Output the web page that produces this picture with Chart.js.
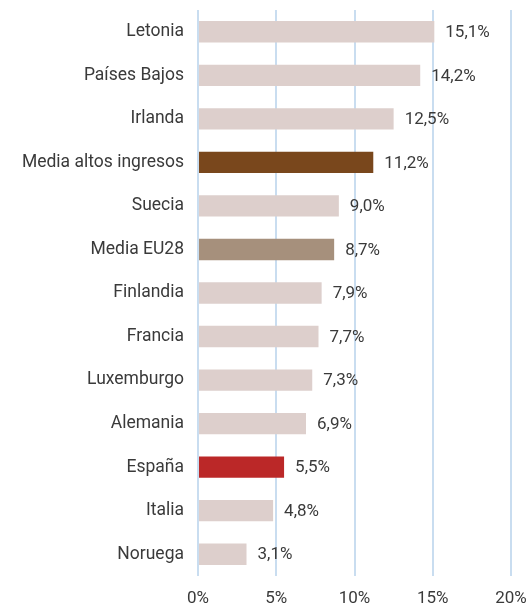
<!DOCTYPE html>
<html>
<head>
<meta charset="utf-8">
<script src="https://cdn.jsdelivr.net/npm/chart.js@4"></script>
<style>
  html, body { margin: 0; padding: 0; background: #fff; }
  .chart-container { position: relative; width: 532px; height: 608px; }
</style>
</head>
<body>
<div class="chart-container">
  <canvas id="chart"></canvas>
</div>
<script>
// Data
const categories = [
  'Letonia', 'Países Bajos', 'Irlanda', 'Media altos ingresos', 'Suecia',
  'Media EU28', 'Finlandia', 'Francia', 'Luxemburgo', 'Alemania',
  'España', 'Italia', 'Noruega'
];
const values = [15.1, 14.2, 12.5, 11.2, 9.0, 8.7, 7.9, 7.7, 7.3, 6.9, 5.5, 4.8, 3.1];
const xTicks = [0, 5, 10, 15, 20];

const LIGHT = '#ddcfcc';
const barColors = categories.map(c => {
  if (c === 'Media altos ingresos') return '#79471c';
  if (c === 'Media EU28') return '#a6907c';
  if (c === 'España') return '#bb2828';
  return LIGHT;
});

const FONT = 'Roboto, "DejaVu Sans", sans-serif';
const TEXT = '#3a3a3a';

// Value labels to the right of each bar
const valueLabels = {
  id: 'valueLabels',
  afterDatasetsDraw(chart) {
    const ctx = chart.ctx;
    const meta = chart.getDatasetMeta(0);
    ctx.save();
    ctx.font = '17px ' + FONT;
    ctx.fillStyle = TEXT;
    ctx.textAlign = 'left';
    ctx.textBaseline = 'middle';
    meta.data.forEach((bar, i) => {
      const txt = values[i].toFixed(1).replace('.', ',') + '%';
      ctx.fillText(txt, bar.x + 11, bar.y + 1);
    });
    ctx.restore();
  }
};

const ctx = document.getElementById('chart').getContext('2d');
new Chart(ctx, {
  type: 'bar',
  data: {
    labels: categories,
    datasets: [{
      data: values,
      backgroundColor: barColors,
      borderWidth: 0,
      categoryPercentage: 1,
      barPercentage: 0.49
    }]
  },
  options: {
    indexAxis: 'y',
    responsive: true,
    maintainAspectRatio: false,
    animation: false,
    layout: { padding: { top: 10, right: 21, left: 0, bottom: 0 } },
    scales: {
      x: {
        min: 0,
        max: 20,
        afterBuildTicks: axis => { axis.ticks = xTicks.map(v => ({ value: v })); },
        afterFit: axis => { axis.height = 32; axis.paddingLeft = 0; axis.paddingRight = 0; },
        grid: { color: '#c9ddf0', lineWidth: 2, drawTicks: false },
        border: { display: false },
        ticks: {
          padding: 13,
          color: TEXT,
          font: { family: FONT, size: 17 },
          callback: v => v + '%'
        }
      },
      y: {
        afterFit: axis => { axis.width = 198; axis.paddingTop = 0; axis.paddingBottom = 0; },
        grid: { display: false, drawTicks: false },
        border: { display: false },
        ticks: {
          padding: 14,
          color: TEXT,
          font: { family: FONT, size: 17.5 }
        }
      }
    },
    plugins: {
      legend: { display: false },
      tooltip: { enabled: false }
    }
  },
  plugins: [valueLabels]
});
</script>
</body>
</html>
